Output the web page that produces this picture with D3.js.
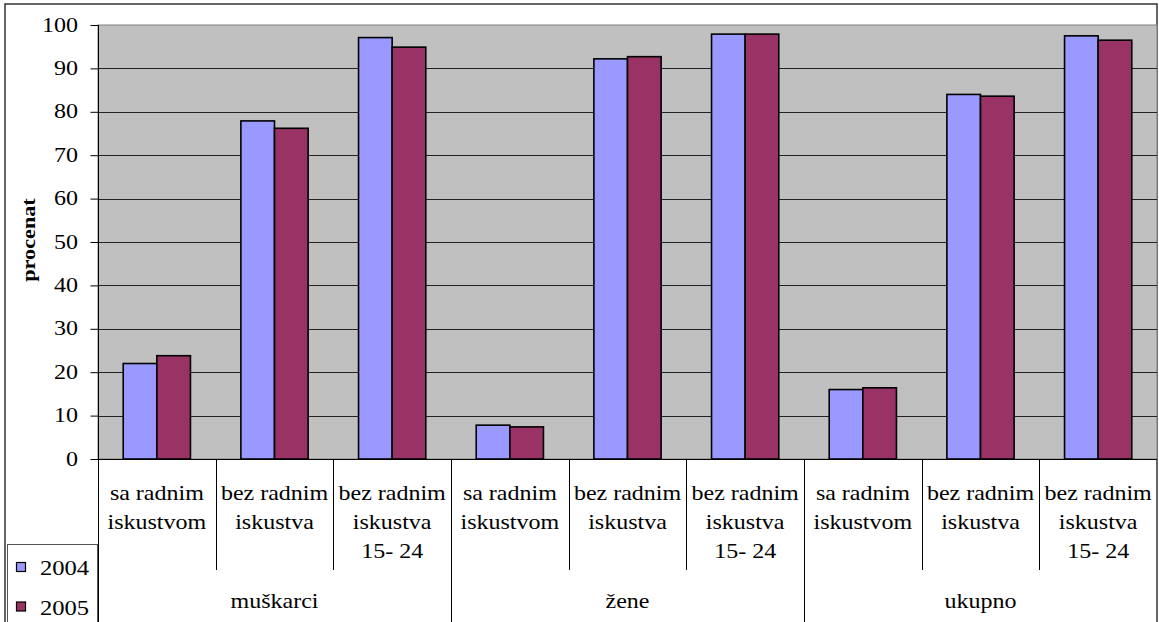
<!DOCTYPE html>
<html><head><meta charset="utf-8">
<script src="https://cdn.jsdelivr.net/npm/d3@7"></script>
<style>html,body{margin:0;padding:0;background:#fff;overflow:hidden}svg{display:block}
svg text{font-family:"Liberation Serif","Times New Roman",Times,serif}</style>
</head><body>
<svg id="c" width="1159" height="622"></svg>
<script>
const groups = ["muškarci", "žene", "ukupno"];
const subLabels = [["sa radnim", "iskustvom"], ["bez radnim", "iskustva"], ["bez radnim", "iskustva", "15- 24"]];
const categories = ["m-sa", "m-bez", "m-1524", "z-sa", "z-bez", "z-1524", "u-sa", "u-bez", "u-1524"];
const series = ["2004", "2005"];
const values2004 = [22.0, 77.9, 97.1, 7.8, 92.2, 97.9, 16.0, 84.0, 97.5];
const values2005 = [23.8, 76.2, 94.9, 7.4, 92.7, 97.9, 16.4, 83.6, 96.5];
const yTicks = [0, 10, 20, 30, 40, 50, 60, 70, 80, 90, 100];
const colors = {"2004": "#9999FF", "2005": "#993366"};

const svg = d3.select("#c");
const L = 98, R = 1157, T = 25, B = 459;
const SX = 1.2;

const x = d3.scaleBand().domain(categories).range([L, R]).paddingInner(0).paddingOuter(0);
const xs = d3.scaleBand().domain(series).range([0, x.bandwidth()]).paddingInner(0).paddingOuter(0.75);
const y = d3.scaleLinear().domain([0, 100]).range([B, T]);

function txt(g, s, px, py, opts = {}) {
  return g.append("text").attr("transform", `translate(${px},${py}) scale(${opts.sx || SX},1)`)
    .style("font-size", (opts.size || 20) + "px")
    .style("font-weight", opts.weight || "normal")
    .attr("text-anchor", opts.anchor || "middle").attr("fill", "#000").text(s);
}

// outer border
svg.append("rect").attr("x", 5).attr("y", 4).attr("width", 1152).attr("height", 640)
  .attr("fill", "#fff").attr("stroke", "#333").attr("stroke-width", 1.5);

// plot area
svg.append("rect").attr("x", L).attr("y", T).attr("width", R - L).attr("height", B - T)
  .attr("fill", "#C0C0C0").attr("stroke", "#808080").attr("stroke-width", 1);

// gridlines
svg.append("g").selectAll("line").data(yTicks.filter(d => d > 0 && d < 100)).join("line")
  .attr("x1", L).attr("x2", R).attr("y1", d => Math.round(y(d)) + 0.5).attr("y2", d => Math.round(y(d)) + 0.5)
  .attr("stroke", "#222").attr("stroke-width", 1);

// bars
const data = categories.map((c, i) => ({c, v: [values2004[i], values2005[i]]}));
const gBars = svg.append("g");
data.forEach(d => {
  series.forEach((s, j) => {
    gBars.append("rect")
      .attr("x", x(d.c) + xs(s)).attr("y", y(d.v[j]))
      .attr("width", xs.bandwidth()).attr("height", B - y(d.v[j]))
      .attr("fill", colors[s]).attr("stroke", "#000").attr("stroke-width", 1.6);
  });
});

// y axis
const yAxis = d3.axisLeft(y).tickValues(yTicks).tickSize(8).tickFormat("");
const ga = svg.append("g").attr("transform", `translate(${L + 0.5},0)`).call(yAxis);
ga.selectAll("path,line").attr("stroke", "#000").attr("stroke-width", 1);
ga.select(".domain").remove();
svg.append("line").attr("x1", L + 0.5).attr("x2", L + 0.5).attr("y1", T).attr("y2", 640).attr("stroke", "#000");
yTicks.forEach(t => txt(svg, String(t), 78, y(t) + 6.5, {anchor: "end", size: 20}));

// y label
svg.append("text").attr("transform", "translate(35,240) rotate(-90) scale(1.14,1)")
  .style("font-size", "19.5px").style("font-weight", "bold")
  .attr("text-anchor", "middle").text("procenat");

// x baseline
svg.append("line").attr("x1", L).attr("x2", R).attr("y1", B + 0.5).attr("y2", B + 0.5).attr("stroke", "#000");

// category separators
categories.forEach((c, i) => {
  if (i === 0) return;
  const xx = Math.round(x(c)) + 0.5;
  const isGroup = i % 3 === 0;
  svg.append("line").attr("x1", xx).attr("x2", xx).attr("y1", B).attr("y2", isGroup ? 640 : 570)
    .attr("stroke", "#000").attr("stroke-width", 1);
});

// category labels
categories.forEach((c, i) => {
  const lines = subLabels[i % 3];
  const cx = x(c) + x.bandwidth() / 2;
  lines.forEach((ln, k) => txt(svg, ln, cx, 500 + k * 29, {size: 20}));
});

// group labels
groups.forEach((g, gi) => {
  const x0 = x(categories[gi * 3]);
  const x1 = x(categories[gi * 3 + 2]) + x.bandwidth();
  txt(svg, g, (x0 + x1) / 2, 608, {size: 20});
});

// legend
svg.append("rect").attr("x", 7.5).attr("y", 544.5).attr("width", 90).attr("height", 100)
  .attr("fill", "#fff").attr("stroke", "#555").attr("stroke-width", 1);
series.forEach((s, j) => {
  const yy = 562 + j * 39.5;
  svg.append("rect").attr("x", 16.5).attr("y", yy + 0.5).attr("width", 9).attr("height", 9)
    .attr("fill", colors[s]).attr("stroke", "#000").attr("stroke-width", 1.2);
  txt(svg, s, 40, yy + 13, {anchor: "start", size: 20.5});
});
</script>
</body></html>
